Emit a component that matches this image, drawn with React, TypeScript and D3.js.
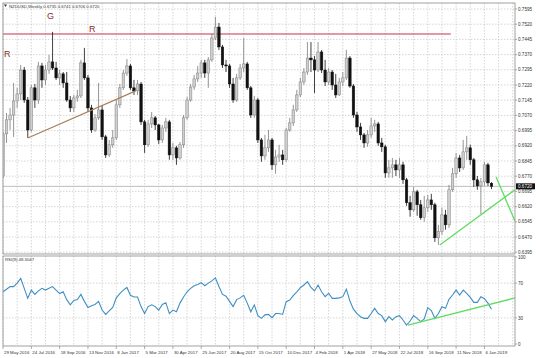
import React from 'react';
import * as d3 from 'd3';

const W = 536;
const H = 358;

// weekly NZDUSD candles, 29 May 2016 .. 20 Jan 2019 (index = week number)
const opens = [
  0.6771, 0.6979, 0.7048, 0.7072, 0.7141, 0.7176, 0.7294, 0.7146, 0.6998, 0.7206,
  0.7146, 0.7314, 0.7245, 0.7294, 0.7334, 0.7304, 0.7255, 0.7275, 0.7230, 0.7146,
  0.7107, 0.7156, 0.7166, 0.7329, 0.7255, 0.7107, 0.6998, 0.7058, 0.7097, 0.6964,
  0.6875, 0.6925, 0.6959, 0.7122, 0.7206, 0.7279, 0.7314, 0.7206, 0.7191, 0.7225,
  0.7038, 0.6925, 0.7028, 0.7058, 0.7023, 0.6949, 0.7008, 0.7038, 0.6875, 0.6910,
  0.6860, 0.6925, 0.7058, 0.7146, 0.7210, 0.7250, 0.7279, 0.7329, 0.7279, 0.7344,
  0.7452, 0.7506, 0.7408, 0.7319, 0.7314, 0.7225, 0.7146, 0.7255, 0.7304, 0.7324,
  0.7206, 0.7072, 0.7146, 0.6949, 0.6870, 0.6910, 0.6949, 0.6826, 0.6865, 0.6875,
  0.6851, 0.6998, 0.7033, 0.7097, 0.7171, 0.7235, 0.7284, 0.7353, 0.7344, 0.7294,
  0.7383, 0.7294, 0.7235, 0.7284, 0.7220, 0.7171, 0.7235, 0.7255, 0.7353, 0.7215,
  0.7072, 0.7013, 0.6974, 0.6934, 0.6974, 0.7018, 0.7028, 0.6934, 0.6915, 0.6786,
  0.6811, 0.6826, 0.6801, 0.6826, 0.6752, 0.6639, 0.6604, 0.6693, 0.6629, 0.6565,
  0.6614, 0.6653, 0.6629, 0.6466, 0.6496, 0.6579, 0.6530, 0.6703, 0.6782, 0.6860,
  0.6811, 0.6890, 0.6910, 0.6851, 0.6752, 0.6722, 0.6742, 0.6826, 0.6735,
];
const highs = [
  0.6989, 0.7082, 0.7107, 0.7230, 0.7206, 0.7319, 0.7309, 0.7161, 0.7220, 0.7225,
  0.7334, 0.7329, 0.7319, 0.7368, 0.7482, 0.7334, 0.7294, 0.7284, 0.7284, 0.7166,
  0.7171, 0.7196, 0.7344, 0.7403, 0.7270, 0.7122, 0.7077, 0.7230, 0.7122, 0.6974,
  0.6949, 0.6998, 0.7146, 0.7225, 0.7294, 0.7348, 0.7324, 0.7245, 0.7245, 0.7235,
  0.7048, 0.7048, 0.7087, 0.7067, 0.7028, 0.7023, 0.7058, 0.7048, 0.6934, 0.6920,
  0.6939, 0.7072, 0.7161, 0.7225, 0.7270, 0.7314, 0.7344, 0.7344, 0.7358, 0.7472,
  0.7556, 0.7526, 0.7418, 0.7344, 0.7324, 0.7255, 0.7275, 0.7324, 0.7452, 0.7334,
  0.7215, 0.7166, 0.7156, 0.6959, 0.6974, 0.6998, 0.6959, 0.6900, 0.6925, 0.6900,
  0.7008, 0.7058, 0.7122, 0.7196, 0.7255, 0.7304, 0.7432, 0.7432, 0.7363, 0.7432,
  0.7393, 0.7344, 0.7304, 0.7294, 0.7275, 0.7255, 0.7284, 0.7393, 0.7363, 0.7225,
  0.7087, 0.7033, 0.6984, 0.6998, 0.7058, 0.7048, 0.7038, 0.6959, 0.6925, 0.6851,
  0.6860, 0.6851, 0.6860, 0.6841, 0.6762, 0.6673, 0.6717, 0.6703, 0.6653, 0.6673,
  0.6678, 0.6683, 0.6639, 0.6530, 0.6614, 0.6604, 0.6727, 0.6811, 0.6885, 0.6875,
  0.6949, 0.6969, 0.6925, 0.6860, 0.6771, 0.6762, 0.6841, 0.6836, 0.6741,
];
const lows = [
  0.6762, 0.6934, 0.6998, 0.6964, 0.7107, 0.7146, 0.7132, 0.6959, 0.6989, 0.7107,
  0.7127, 0.7206, 0.7220, 0.7275, 0.7294, 0.7245, 0.7220, 0.7206, 0.7137, 0.7087,
  0.7087, 0.7137, 0.7156, 0.7245, 0.7087, 0.6984, 0.6989, 0.7048, 0.6949, 0.6860,
  0.6865, 0.6910, 0.6949, 0.7107, 0.7196, 0.7265, 0.7196, 0.7171, 0.7171, 0.7023,
  0.6885, 0.6915, 0.7008, 0.6998, 0.6929, 0.6934, 0.6989, 0.6851, 0.6851, 0.6826,
  0.6851, 0.6910, 0.7048, 0.7137, 0.7196, 0.7235, 0.7255, 0.7255, 0.7206, 0.7334,
  0.7442, 0.7393, 0.7304, 0.7284, 0.7206, 0.7132, 0.7137, 0.7245, 0.7284, 0.7196,
  0.7058, 0.7058, 0.6934, 0.6841, 0.6851, 0.6890, 0.6801, 0.6782, 0.6841, 0.6826,
  0.6841, 0.6989, 0.7018, 0.7087, 0.7161, 0.7220, 0.7270, 0.7284, 0.7181, 0.7284,
  0.7279, 0.7215, 0.7220, 0.7196, 0.7156, 0.7166, 0.7215, 0.7245, 0.7206, 0.7058,
  0.6989, 0.6949, 0.6910, 0.6915, 0.6959, 0.6989, 0.6920, 0.6890, 0.6762, 0.6762,
  0.6762, 0.6771, 0.6762, 0.6732, 0.6624, 0.6570, 0.6594, 0.6575, 0.6555, 0.6545,
  0.6594, 0.6604, 0.6446, 0.6431, 0.6481, 0.6506, 0.6515, 0.6693, 0.6762, 0.6791,
  0.6801, 0.6851, 0.6826, 0.6717, 0.6703, 0.6584, 0.6722, 0.6722, 0.6706,
];
const closes = [
  0.6979, 0.7048, 0.7072, 0.7141, 0.7176, 0.7294, 0.7146, 0.6998, 0.7206, 0.7146,
  0.7314, 0.7245, 0.7294, 0.7334, 0.7304, 0.7255, 0.7275, 0.7230, 0.7146, 0.7107,
  0.7156, 0.7166, 0.7329, 0.7255, 0.7107, 0.6998, 0.7058, 0.7097, 0.6964, 0.6875,
  0.6925, 0.6959, 0.7122, 0.7206, 0.7279, 0.7314, 0.7206, 0.7191, 0.7225, 0.7038,
  0.6925, 0.7028, 0.7058, 0.7023, 0.6949, 0.7008, 0.7038, 0.6875, 0.6910, 0.6860,
  0.6925, 0.7058, 0.7146, 0.7210, 0.7250, 0.7279, 0.7329, 0.7279, 0.7344, 0.7452,
  0.7506, 0.7408, 0.7319, 0.7314, 0.7225, 0.7146, 0.7255, 0.7304, 0.7324, 0.7206,
  0.7072, 0.7146, 0.6949, 0.6870, 0.6910, 0.6949, 0.6826, 0.6865, 0.6875, 0.6851,
  0.6998, 0.7033, 0.7097, 0.7171, 0.7235, 0.7284, 0.7353, 0.7344, 0.7294, 0.7383,
  0.7294, 0.7235, 0.7284, 0.7220, 0.7171, 0.7235, 0.7255, 0.7353, 0.7215, 0.7072,
  0.7013, 0.6974, 0.6934, 0.6974, 0.7018, 0.7028, 0.6934, 0.6915, 0.6786, 0.6811,
  0.6826, 0.6801, 0.6826, 0.6752, 0.6639, 0.6604, 0.6693, 0.6629, 0.6565, 0.6614,
  0.6653, 0.6629, 0.6466, 0.6496, 0.6579, 0.6530, 0.6703, 0.6782, 0.6860, 0.6811,
  0.6890, 0.6910, 0.6851, 0.6752, 0.6722, 0.6742, 0.6826, 0.6737, 0.6720,
];
const rsiValues = [
  60, 63, 66, 66, 70, 75.5, 64, 52.5, 62, 57,
  61, 64, 62, 64, 66, 62, 58, 60, 51, 45,
  50, 51, 57, 49, 42, 44, 45.5, 49, 39, 34,
  38, 42, 53, 58, 62, 65, 56, 54, 54, 43,
  35, 43, 45, 43, 39, 45.5, 47.5, 35, 39, 37,
  47, 54, 60, 64, 67, 68.5, 70.5, 67, 70, 72.5,
  76, 66, 57, 55, 49, 43, 51, 53, 56, 47,
  37, 45, 32.6, 29.5, 33.5, 34, 30.3, 35, 35, 34,
  48.7, 50.6, 55.6, 60, 64.7, 67.8, 71.6, 65, 61, 67.8,
  60, 54.4, 58.3, 52.5, 52.5, 53, 54.4, 63, 49.4, 40,
  35, 31.4, 29.5, 29.5, 35, 41, 35, 32.6, 25.7, 31.4,
  27.6, 31.4, 32.6, 27.6, 21.8, 26.4, 32.6, 29.5, 25.7, 28.7,
  41.8, 38.4, 29.5, 35, 42.9, 41, 51.3, 56.3, 62, 56.3,
  62, 58.3, 53.6, 47.9, 47.9, 54.4, 52, 47, 40,
];

const priceTicks = [
  0.7595, 0.752, 0.7445, 0.737, 0.7295, 0.722, 0.7145, 0.707, 0.6995,
  0.692, 0.6845, 0.677, 0.6695, 0.662, 0.6545, 0.647, 0.6395,
];
const rsiTicks = [100, 70, 30, 0];
const rsiLevels = [70, 30];
const dateLabels = [
  '29 May 2016', '24 Jul 2016', '18 Sep 2016', '13 Nov 2016', '8 Jan 2017',
  '5 Mar 2017', '30 Apr 2017', '25 Jun 2017', '20 Aug 2017', '15 Oct 2017',
  '10 Dec 2017', '4 Feb 2018', '1 Apr 2018', '27 May 2018', '22 Jul 2018',
  '16 Sep 2018', '11 Nov 2018', '6 Jan 2019',
];
const labelStepWeeks = 8;
const gridStepWeeks = 4;

const resistanceLevel = 0.7472;
const resistanceEndWeek = 126.5;
const brownTrend = [{ w: 7, p: 0.6959 }, { w: 37.5, p: 0.7191 }];
const greenSupport = [{ w: 123.4, p: 0.6431 }, { w: 144.6, p: 0.6703 }];
const greenFall = [{ w: 139.3, p: 0.6766 }, { w: 144.6, p: 0.655 }];
const rsiTrend = [{ w: 114.4, v: 21.8 }, { w: 144.6, v: 52.9 }];

const title = 'NZDUSD,Weekly  0.6735 0.6741 0.6706 0.6720';
const rsiTitle = 'RSI(9) 48.3047';
const lastPrice = 0.672;

export default function App() {
  const left = 3;
  const right = 515;
  const mainTop = 3;
  const mainBottom = 254;
  const rsiTop = 256;
  const rsiBottom = 346;

  const x = d3.scaleLinear().domain([0, 138]).range([3, 491.5]);
  const y = d3.scaleLinear().domain([0.7595, 0.6395]).range([9, 252.2]);
  const yR = d3.scaleLinear().domain([0, 100]).range([344, 257]);

  const font = 'Liberation Sans, Arial, sans-serif';
  const gridColor = '#c4c4c4';

  const gridWeeks: number[] = [];
  for (let w = 0; x(w) < right; w += gridStepWeeks) gridWeeks.push(w);

  const rsiLine = d3
    .line<number>()
    .x((_, i) => x(i))
    .y((v) => yR(v))(rsiValues) as string;

  const bw = 2.5;

  return (
    <svg
      width={W}
      height={H}
      style={{ position: 'absolute', left: 0, top: 0, background: '#fff' }}
      fontFamily={font}
    >
      <rect x={0} y={0} width={W} height={H} fill="#fff" />
      <defs>
        <clipPath id="mainClip">
          <rect x={left} y={mainTop} width={right - left} height={mainBottom - mainTop} />
        </clipPath>
        <clipPath id="rsiClip">
          <rect x={left} y={rsiTop} width={right - left} height={rsiBottom - rsiTop} />
        </clipPath>
      </defs>

      {/* grid main */}
      {priceTicks.map((p) => (
        <line key={'hg' + p} x1={left} x2={right} y1={y(p)} y2={y(p)} stroke={gridColor} strokeWidth={0.7} strokeDasharray="1.5,1.5" />
      ))}
      {gridWeeks.map((w) => (
        <g key={'vg' + w}>
          <line x1={x(w)} x2={x(w)} y1={mainTop} y2={mainBottom} stroke={gridColor} strokeWidth={0.7} strokeDasharray="1.5,1.5" />
          <line x1={x(w)} x2={x(w)} y1={rsiTop} y2={rsiBottom} stroke={gridColor} strokeWidth={0.7} strokeDasharray="1.5,1.5" />
        </g>
      ))}
      {rsiLevels.map((v) => (
        <line key={'rl' + v} x1={left} x2={right} y1={yR(v)} y2={yR(v)} stroke={gridColor} strokeWidth={0.7} strokeDasharray="1.5,1.5" />
      ))}

      {/* current price line */}
      <line x1={left} x2={right} y1={y(lastPrice)} y2={y(lastPrice)} stroke="#bdbdbd" strokeWidth={1} />

      {/* resistance */}
      <line x1={left} x2={x(resistanceEndWeek)} y1={y(resistanceLevel)} y2={y(resistanceLevel)} stroke="#c8324e" strokeWidth={1.1} />

      {/* candles */}
      <g clipPath="url(#mainClip)">
        {closes.map((c, i) => {
          const o = opens[i];
          const bull = c >= o;
          const cx = x(i);
          const top = y(Math.max(o, c));
          const bot = y(Math.min(o, c));
          return (
            <g key={'c' + i}>
              <line x1={cx} x2={cx} y1={y(highs[i])} y2={y(lows[i])} stroke={bull ? '#7a7a7a' : '#111'} strokeWidth={0.8} />
              <rect
                x={cx - bw / 2}
                y={top}
                width={bw}
                height={Math.max(0.8, bot - top)}
                fill={bull ? '#cfcfcf' : '#111'}
                stroke={bull ? '#808080' : '#111'}
                strokeWidth={0.5}
              />
            </g>
          );
        })}
        <line x1={x(brownTrend[0].w)} y1={y(brownTrend[0].p)} x2={x(brownTrend[1].w)} y2={y(brownTrend[1].p)} stroke="#a77f5a" strokeWidth={1.1} />
        <line x1={x(greenSupport[0].w)} y1={y(greenSupport[0].p)} x2={x(greenSupport[1].w)} y2={y(greenSupport[1].p)} stroke="#62dc62" strokeWidth={1.3} />
        <line x1={x(greenFall[0].w)} y1={y(greenFall[0].p)} x2={x(greenFall[1].w)} y2={y(greenFall[1].p)} stroke="#62dc62" strokeWidth={1.3} />
      </g>

      {/* RSI */}
      <g clipPath="url(#rsiClip)">
        <path d={rsiLine} fill="none" stroke="#3f8fc4" strokeWidth={1.1} />
        <line x1={x(rsiTrend[0].w)} y1={yR(rsiTrend[0].v)} x2={x(rsiTrend[1].w)} y2={yR(rsiTrend[1].v)} stroke="#62dc62" strokeWidth={1.3} />
      </g>

      {/* annotations */}
      <text x={x(12.4)} y={y(0.7545)} fontSize={9} fill="#8a2e22">G</text>
      <text x={x(24.3)} y={y(0.7482)} fontSize={9} fill="#8a2e22">R</text>
      <text x={x(0.3)} y={y(0.7359)} fontSize={9} fill="#8a2e22">R</text>

      {/* frames */}
      <rect x={left} y={mainTop} width={right - left} height={mainBottom - mainTop} fill="none" stroke="#8a8a8a" strokeWidth={0.8} />
      <rect x={left} y={rsiTop} width={right - left} height={rsiBottom - rsiTop} fill="none" stroke="#8a8a8a" strokeWidth={0.8} />

      {/* titles */}
      <path d={`M4,4.5 L7,4.5 L5.5,7 Z`} fill="#333" />
      <text x={9} y={7.6} fontSize={4.3} fill="#333">{title}</text>
      <text x={5} y={261} fontSize={4.3} fill="#333">{rsiTitle}</text>

      {/* price axis */}
      {priceTicks.map((p) => (
        <g key={'pt' + p}>
          <line x1={right} x2={right + 2} y1={y(p)} y2={y(p)} stroke="#777" strokeWidth={0.6} />
          <text x={right + 3} y={y(p) + 1.6} fontSize={4.6} fill="#333">{p.toFixed(4)}</text>
        </g>
      ))}
      <rect x={right + 1} y={y(lastPrice) - 3} width={W - right - 2} height={6} fill="#111" />
      <text x={right + 3} y={y(lastPrice) + 1.7} fontSize={4.6} fill="#fff">{lastPrice.toFixed(4)}</text>

      {/* rsi axis */}
      {rsiTicks.map((v) => (
        <g key={'rt' + v}>
          <line x1={right} x2={right + 2} y1={yR(v)} y2={yR(v)} stroke="#777" strokeWidth={0.6} />
          <text x={right + 3} y={yR(v) + 1.6} fontSize={4.6} fill="#333">{v}</text>
        </g>
      ))}

      {/* time axis */}
      {dateLabels.map((lab, k) => {
        const w = k * labelStepWeeks;
        return (
          <g key={'dl' + k}>
            <line x1={x(w)} x2={x(w)} y1={rsiBottom} y2={rsiBottom + 3} stroke="#777" strokeWidth={0.6} />
            <text x={x(w) + 1} y={354} fontSize={4.4} fill="#333">{lab}</text>
          </g>
        );
      })}
    </svg>
  );
}
